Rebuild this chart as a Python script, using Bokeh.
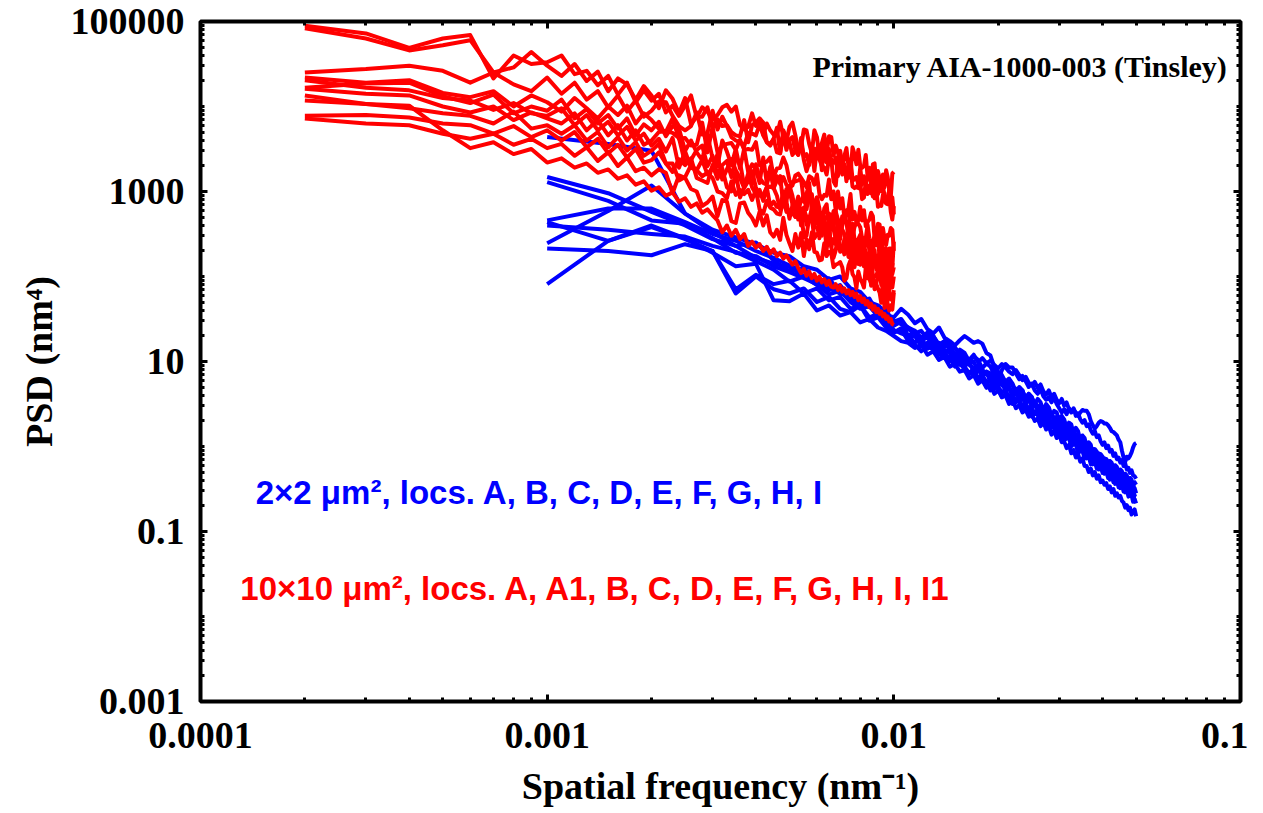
from bokeh.plotting import figure
from bokeh.models import LogAxis, FixedTicker, Label, CustomJSTickFormatter
from bokeh.embed import file_html
from bokeh.resources import INLINE

# ---------------- data ----------------
# spatial frequency grids (nm^-1)
red_freq = [k * 1e-4 for k in range(2, 101)]    # 10x10 um scans: 0.0002 ... 0.0100
blue_freq = [k * 5e-4 for k in range(2, 101)]   # 2x2 um scans:   0.0010 ... 0.0500

# log10 of PSD (nm^4)
red_A = [4.95, 4.86, 4.69, 4.80, 4.84, 4.33, 4.60, 4.50, 4.52, 4.60,
         4.38, 4.42, 4.25, 4.36, 4.14, 4.28, 4.05, 4.19, 4.07, 4.15,
         3.93, 4.01, 3.89, 4.01, 4.13, 3.87, 3.99, 3.94, 3.85, 3.90,
         3.99, 4.02, 3.94, 4.00, 3.78, 3.73, 3.76, 3.92, 3.77, 3.82,
         3.67, 3.80, 3.72, 3.67, 3.66, 3.82, 3.64, 3.59, 3.76, 3.81,
         3.66, 3.47, 3.53, 3.73, 3.72, 3.56, 3.45, 3.72, 3.64, 3.41,
         3.57, 3.67, 3.45, 3.65, 3.64, 3.42, 3.54, 3.46, 3.31, 3.25,
         3.42, 3.51, 3.29, 3.21, 3.52, 3.44, 3.32, 3.49, 3.30, 3.28,
         3.30, 3.43, 3.17, 3.20, 3.08, 3.32, 3.33, 3.08, 3.24, 3.15,
         3.00, 3.20, 3.05, 3.25, 3.17, 3.02, 2.94, 3.21, 3.23]
red_A1 = [4.92, 4.80, 4.66, 4.72, 4.78, 4.40, 4.46, 4.64, 4.48, 4.36,
          4.50, 4.30, 4.41, 4.18, 4.33, 4.26, 4.08, 4.24, 4.13, 3.98,
          4.19, 4.09, 3.92, 4.10, 3.79, 3.88, 3.88, 3.99, 3.75, 3.85,
          3.77, 3.78, 3.70, 3.66, 3.65, 3.84, 3.58, 3.78, 3.81, 3.86,
          3.81, 3.58, 3.54, 3.62, 3.75, 3.45, 3.72, 3.63, 3.58, 3.43,
          3.48, 3.43, 3.63, 3.41, 3.44, 3.31, 3.51, 3.50, 3.42, 3.52,
          3.25, 3.56, 3.34, 3.50, 3.35, 3.34, 3.40, 3.18, 3.48, 3.33,
          3.32, 3.12, 3.29, 3.38, 3.15, 3.14, 3.17, 3.08, 3.28, 3.08,
          3.18, 3.10, 3.16, 3.28, 3.09, 2.94, 3.21, 2.95, 2.97, 3.17,
          3.01, 3.13, 2.88, 2.86, 2.85, 3.04, 2.91, 2.93, 2.73]
red_B = [4.40, 4.44, 4.48, 4.42, 4.28, 4.40, 4.26, 4.18, 4.34, 4.15,
         4.28, 4.08, 4.18, 3.99, 4.13, 3.94, 4.07, 3.88, 3.95, 4.06,
         4.05, 3.89, 3.77, 3.72, 3.77, 3.93, 3.67, 3.69, 3.95, 3.73,
         3.88, 3.77, 3.64, 3.60, 3.58, 3.53, 3.69, 3.68, 3.66, 3.79,
         3.66, 3.58, 3.56, 3.62, 3.46, 3.45, 3.68, 3.49, 3.61, 3.64,
         3.48, 3.43, 3.59, 3.37, 3.24, 3.34, 3.50, 3.24, 3.51, 3.38,
         3.30, 3.28, 3.20, 3.39, 3.38, 3.12, 3.07, 3.37, 3.29, 3.20,
         3.22, 3.20, 3.16, 3.28, 3.06, 3.04, 3.06, 3.04, 3.10, 2.91,
         2.93, 3.12, 2.97, 3.07, 2.98, 3.00, 2.92, 3.04, 2.82, 2.84,
         2.83, 2.96, 2.98, 2.89, 2.92, 2.94, 2.76, 2.67, 2.83]
red_C = [4.34, 4.28, 4.31, 4.16, 4.11, 4.18, 4.00, 4.13, 4.05, 3.94,
         4.10, 3.98, 3.86, 4.00, 3.90, 4.01, 3.80, 3.92, 3.84, 3.74,
         3.70, 3.86, 3.62, 3.63, 3.54, 3.55, 3.81, 3.46, 3.76, 3.46,
         3.54, 3.56, 3.57, 3.49, 3.61, 3.49, 3.50, 3.49, 3.58, 3.31,
         3.34, 3.35, 3.40, 3.17, 3.27, 3.28, 3.40, 3.31, 3.13, 3.07,
         3.19, 3.21, 3.16, 3.11, 3.05, 3.18, 3.16, 3.08, 3.20, 2.97,
         2.91, 2.96, 2.95, 3.14, 2.91, 3.00, 2.77, 3.00, 2.80, 2.92,
         2.69, 2.75, 2.80, 2.97, 2.67, 2.76, 2.64, 2.66, 2.82, 2.66,
         2.78, 2.59, 2.64, 2.67, 2.75, 2.71, 2.44, 2.43, 2.62, 2.61,
         2.37, 2.57, 2.45, 2.37, 2.49, 2.48, 2.57, 2.55, 2.30]
red_D = [4.22, 4.27, 4.28, 4.12, 4.04, 4.14, 3.92, 4.00, 3.95, 4.08,
         3.86, 3.97, 3.80, 3.90, 3.74, 3.86, 3.66, 3.79, 3.72, 3.82,
         3.65, 3.77, 3.74, 3.48, 3.60, 3.46, 3.37, 3.66, 3.39, 3.30,
         3.60, 3.47, 3.31, 3.50, 3.27, 3.50, 3.23, 3.32, 3.26, 3.10,
         3.40, 3.10, 3.29, 3.06, 3.18, 3.09, 3.17, 3.08, 3.02, 3.10,
         3.12, 3.13, 3.15, 2.88, 2.97, 3.10, 2.76, 2.85, 2.93, 2.70,
         2.68, 2.70, 2.69, 2.74, 2.72, 2.59, 2.76, 2.67, 2.54, 2.71,
         2.66, 2.78, 2.77, 2.54, 2.46, 2.58, 2.64, 2.62, 2.58, 2.45,
         2.40, 2.45, 2.61, 2.45, 2.33, 2.42, 2.47, 2.56, 2.41, 2.25,
         2.51, 2.32, 2.21, 2.33, 2.18, 2.17, 2.33, 2.10, 2.41]
red_E = [4.21, 4.15, 4.13, 4.00, 3.93, 4.00, 3.84, 3.93, 3.86, 3.80,
         3.92, 3.72, 3.84, 3.66, 3.78, 3.60, 3.72, 3.55, 3.60, 3.70,
         3.71, 3.69, 3.63, 3.33, 3.37, 3.49, 3.54, 3.30, 3.42, 3.19,
         3.31, 3.36, 3.17, 3.39, 3.34, 3.07, 3.16, 3.09, 3.32, 3.16,
         3.10, 3.08, 3.24, 3.04, 3.13, 3.18, 2.84, 2.89, 3.07, 2.95,
         2.75, 2.77, 2.90, 2.95, 2.79, 2.98, 2.97, 2.74, 2.93, 2.80,
         2.60, 2.80, 2.85, 2.56, 2.64, 2.77, 2.75, 2.53, 2.44, 2.60,
         2.72, 2.64, 2.44, 2.47, 2.62, 2.44, 2.42, 2.44, 2.49, 2.33,
         2.45, 2.36, 2.49, 2.30, 2.24, 2.27, 2.46, 2.37, 2.43, 2.37,
         2.25, 2.17, 2.23, 2.25, 2.09, 2.33, 2.18, 2.03, 2.11]
red_F = [4.13, 4.03, 3.98, 3.92, 3.89, 3.80, 3.94, 3.74, 3.78, 3.68,
         3.78, 3.60, 3.70, 3.52, 3.64, 3.48, 3.58, 3.42, 3.48, 3.56,
         3.33, 3.23, 3.38, 3.31, 3.39, 3.16, 3.13, 3.10, 3.31, 3.15,
         3.27, 3.05, 3.00, 3.22, 2.93, 3.05, 3.21, 3.05, 2.97, 3.02,
         2.89, 3.05, 2.83, 2.88, 2.82, 2.81, 3.00, 2.88, 2.68, 2.84,
         2.82, 2.94, 2.60, 2.79, 2.70, 2.68, 2.80, 2.61, 2.80, 2.45,
         2.68, 2.55, 2.60, 2.58, 2.35, 2.44, 2.38, 2.57, 2.34, 2.36,
         2.26, 2.39, 2.40, 2.45, 2.16, 2.42, 2.26, 2.15, 2.16, 2.35,
         2.37, 2.28, 2.23, 2.00, 2.24, 2.01, 2.00, 2.01, 2.07, 2.02,
         2.07, 1.95, 2.15, 1.99, 1.95, 1.83, 2.10, 1.87, 2.00]
red_G = [3.89, 3.90, 3.87, 3.80, 3.78, 3.68, 3.77, 3.64, 3.72, 3.60,
         3.70, 3.52, 3.62, 3.45, 3.55, 3.40, 3.50, 3.34, 3.37, 3.46,
         3.33, 3.33, 3.13, 3.17, 3.31, 3.25, 3.18, 3.22, 3.16, 3.00,
         2.98, 2.92, 3.12, 2.96, 3.02, 2.97, 3.02, 2.90, 3.02, 2.79,
         2.74, 2.89, 2.81, 2.79, 2.74, 2.73, 2.92, 2.76, 2.77, 2.75,
         2.70, 2.75, 2.80, 2.46, 2.48, 2.70, 2.68, 2.45, 2.50, 2.48,
         2.53, 2.62, 2.32, 2.54, 2.35, 2.22, 2.31, 2.50, 2.29, 2.31,
         2.44, 2.38, 2.23, 2.39, 2.13, 2.11, 2.24, 2.15, 2.14, 2.19,
         2.27, 2.12, 2.10, 2.09, 1.89, 1.92, 1.90, 1.92, 2.01, 2.10,
         1.90, 2.10, 1.81, 1.76, 2.00, 1.81, 1.73, 1.75, 1.84]
red_H = [3.86, 3.80, 3.78, 3.68, 3.62, 3.68, 3.55, 3.62, 3.51, 3.56,
         3.42, 3.52, 3.36, 3.46, 3.30, 3.40, 3.24, 3.28, 3.19, 3.26,
         3.22, 2.98, 3.19, 3.16, 3.03, 3.00, 2.83, 2.87, 2.94, 2.71,
         2.90, 2.88, 2.65, 2.63, 2.86, 2.87, 2.75, 2.69, 2.60, 2.76,
         2.60, 2.72, 2.52, 2.47, 2.55, 2.43, 2.69, 2.49, 2.39, 2.30,
         2.50, 2.34, 2.51, 2.24, 2.44, 2.32, 2.52, 2.29, 2.28, 2.19,
         2.20, 2.39, 2.24, 2.29, 2.27, 2.11, 2.14, 2.15, 2.17, 2.11,
         1.95, 1.98, 2.13, 2.19, 2.03, 1.99, 1.86, 2.06, 1.97, 1.93,
         1.87, 2.11, 1.98, 1.97, 1.92, 2.01, 1.85, 1.91, 1.86, 1.81,
         1.69, 1.96, 1.63, 1.94, 1.65, 1.60, 1.66, 1.61, 1.81]
red_I = [4.31, 4.22, 4.19, 4.10, 4.07, 3.96, 4.04, 3.92, 3.89, 3.98,
         3.78, 3.90, 3.72, 3.82, 3.66, 3.76, 3.60, 3.68, 3.54, 3.62,
         3.47, 3.63, 3.28, 3.47, 3.28, 3.25, 3.37, 3.20, 3.28, 3.44,
         3.14, 3.26, 3.38, 3.25, 3.16, 3.04, 3.12, 3.24, 3.05, 2.95,
         2.96, 3.05, 3.06, 3.04, 2.95, 2.79, 2.84, 3.03, 3.01, 2.85,
         2.87, 2.67, 2.76, 2.81, 2.61, 2.70, 2.68, 2.59, 2.57, 2.50,
         2.48, 2.67, 2.55, 2.42, 2.72, 2.56, 2.43, 2.66, 2.60, 2.55,
         2.50, 2.38, 2.40, 2.45, 2.33, 2.39, 2.23, 2.43, 2.20, 2.46,
         2.12, 2.25, 2.27, 2.15, 2.38, 2.11, 2.31, 2.08, 2.20, 2.30,
         1.94, 2.00, 2.24, 1.91, 1.97, 2.07, 1.92, 2.14, 2.13]
red_I1 = [4.07, 4.03, 4.01, 3.72, 3.51, 3.58, 3.44, 3.50, 3.34, 3.39,
          3.28, 3.33, 3.22, 3.26, 3.15, 3.19, 3.08, 3.12, 3.01, 3.05,
          2.95, 2.99, 2.88, 2.92, 2.82, 2.86, 2.75, 2.79, 2.72, 2.66,
          2.52, 2.60, 2.48, 2.55, 2.44, 2.50, 2.36, 2.41, 2.34, 2.38,
          2.30, 2.35, 2.27, 2.32, 2.24, 2.28, 2.21, 2.25, 2.19, 2.14,
          2.18, 2.10, 2.04, 2.09, 2.01, 2.06, 1.98, 2.03, 1.95, 2.00,
          1.93, 1.97, 1.90, 1.95, 1.88, 1.87, 1.91, 1.84, 1.89, 1.82,
          1.86, 1.80, 1.84, 1.78, 1.82, 1.76, 1.80, 1.72, 1.77, 1.70,
          1.74, 1.67, 1.71, 1.64, 1.68, 1.61, 1.65, 1.58, 1.62, 1.56,
          1.59, 1.53, 1.56, 1.50, 1.53, 1.47, 1.50, 1.44, 1.43]

blue_A = [3.64, 3.56, 3.48, 2.74, 2.55, 2.46, 2.38, 2.28, 2.24, 2.12,
          2.08, 1.96, 2.00, 1.86, 1.82, 1.70, 1.66, 1.58, 1.47, 1.50,
          1.38, 1.34, 1.26, 1.30, 1.24, 1.14, 1.20, 1.16, 1.05, 1.12,
          1.02, 0.98, 1.00, 0.88, 0.90, 0.86, 0.80, 0.86, 0.82, 0.72,
          0.74, 0.70, 0.62, 0.68, 0.64, 0.55, 0.60, 0.58, 0.48, 0.52,
          0.48, 0.40, 0.44, 0.42, 0.32, 0.37, 0.34, 0.26, 0.30, 0.28,
          0.18, 0.24, 0.22, 0.12, 0.17, 0.14, 0.05, 0.10, 0.08, -0.02,
          0.04, 0.02, -0.08, -0.03, -0.05, -0.13, -0.08, -0.10, -0.18, -0.14,
          -0.15, -0.22, -0.17, -0.19, -0.28, -0.22, -0.24, -0.32, -0.27, -0.29,
          -0.37, -0.32, -0.34, -0.42, -0.37, -0.39, -0.47, -0.42, -0.45]
blue_B = [3.17, 2.98, 2.76, 2.60, 2.44, 2.36, 2.22, 2.15, 2.11, 2.00,
          1.96, 1.84, 1.90, 1.74, 1.66, 1.72, 1.55, 1.48, 1.37, 1.33,
          1.30, 1.22, 1.28, 1.15, 1.19, 1.08, 1.12, 1.00, 1.05, 0.96,
          0.94, 0.86, 0.92, 0.80, 0.85, 0.74, 0.79, 0.68, 0.70, 0.64,
          0.66, 0.58, 0.62, 0.52, 0.57, 0.46, 0.51, 0.40, 0.45, 0.38,
          0.41, 0.33, 0.38, 0.28, 0.33, 0.22, 0.29, 0.20, 0.24, 0.14,
          0.20, 0.12, 0.18, 0.06, 0.10, 0.02, 0.06, -0.04, 0.01, -0.08,
          -0.02, -0.10, -0.06, -0.14, -0.09, -0.17, -0.12, -0.20, -0.18, -0.24,
          -0.20, -0.28, -0.23, -0.31, -0.27, -0.36, -0.30, -0.39, -0.35, -0.43,
          -0.41, -0.48, -0.44, -0.52, -0.47, -0.55, -0.51, -0.58, -0.59]
blue_C = [3.11, 2.89, 2.66, 2.62, 2.45, 2.28, 2.24, 2.12, 2.05, 1.98,
          1.91, 1.86, 1.80, 1.77, 1.70, 1.65, 1.60, 1.55, 1.52, 1.62,
          1.55, 1.45, 1.50, 1.38, 1.33, 1.40, 1.28, 1.24, 1.19, 1.25,
          1.30, 1.26, 1.22, 1.24, 1.21, 1.10, 1.07, 0.93, 0.78, 0.90,
          0.97, 0.93, 0.93, 0.86, 0.79, 0.83, 0.77, 0.70, 0.74, 0.66,
          0.62, 0.68, 0.59, 0.55, 0.58, 0.52, 0.58, 0.50, 0.45, 0.40,
          0.44, 0.38, 0.45, 0.41, 0.44, 0.40, 0.36, 0.40, 0.43, 0.42,
          0.42, 0.38, 0.30, 0.25, 0.21, 0.24, 0.28, 0.30, 0.29, 0.27,
          0.27, 0.25, 0.22, 0.18, 0.17, 0.15, 0.13, 0.08, 0.05, -0.05,
          -0.13, -0.18, -0.12, -0.14, -0.11, -0.07, -0.01, 0.03, 0.04]
blue_D = [2.66, 2.80, 2.80, 2.64, 2.50, 2.42, 2.30, 2.22, 2.13, 2.06,
          1.98, 1.92, 1.85, 1.80, 1.72, 1.69, 1.60, 1.55, 1.48, 1.44,
          1.40, 1.33, 1.36, 1.27, 1.30, 1.20, 1.24, 1.14, 1.17, 1.08,
          1.06, 1.02, 1.08, 0.99, 1.04, 0.98, 1.01, 0.96, 0.92, 0.97,
          0.93, 0.88, 0.85, 0.90, 0.84, 0.78, 0.82, 0.75, 0.72, 0.76,
          0.69, 0.73, 0.65, 0.61, 0.66, 0.58, 0.62, 0.55, 0.51, 0.56,
          0.48, 0.52, 0.44, 0.40, 0.45, 0.36, 0.39, 0.32, 0.28, 0.31,
          0.24, 0.26, 0.19, 0.15, 0.18, 0.11, 0.13, 0.06, 0.02, 0.05,
          -0.02, 0.01, -0.06, -0.04, -0.11, -0.08, -0.15, -0.13, -0.19, -0.16,
          -0.23, -0.20, -0.27, -0.25, -0.31, -0.28, -0.34, -0.35, -0.38]
blue_E = [2.64, 2.42, 2.58, 2.44, 2.30, 1.80, 2.00, 1.85, 1.80, 1.86,
          1.70, 1.76, 1.62, 1.58, 1.66, 1.48, 1.52, 1.40, 1.34, 1.38,
          1.24, 1.20, 1.12, 1.18, 1.14, 1.02, 1.08, 1.05, 0.94, 1.00,
          0.90, 0.86, 0.88, 0.76, 0.80, 0.77, 0.66, 0.72, 0.68, 0.58,
          0.62, 0.60, 0.50, 0.56, 0.52, 0.42, 0.48, 0.46, 0.35, 0.41,
          0.37, 0.28, 0.34, 0.31, 0.22, 0.27, 0.24, 0.14, 0.20, 0.17,
          0.08, 0.13, 0.10, 0.00, 0.06, 0.03, -0.08, -0.02, -0.05, -0.14,
          -0.09, -0.12, -0.21, -0.15, -0.18, -0.26, -0.20, -0.23, -0.31, -0.26,
          -0.29, -0.37, -0.32, -0.34, -0.42, -0.37, -0.40, -0.48, -0.42, -0.45,
          -0.53, -0.48, -0.51, -0.59, -0.54, -0.57, -0.65, -0.62, -0.67]
blue_F = [2.39, 2.77, 3.07, 2.74, 2.52, 2.36, 2.40, 2.19, 2.06, 2.10,
          1.92, 1.98, 1.80, 1.84, 1.68, 1.74, 1.56, 1.62, 1.42, 1.47,
          1.30, 1.36, 1.24, 1.29, 1.16, 1.22, 1.10, 1.15, 1.02, 1.08,
          0.94, 1.00, 0.88, 0.93, 0.82, 0.88, 0.76, 0.82, 0.71, 0.77,
          0.64, 0.70, 0.58, 0.65, 0.55, 0.60, 0.50, 0.56, 0.46, 0.51,
          0.42, 0.48, 0.37, 0.44, 0.33, 0.40, 0.29, 0.35, 0.24, 0.31,
          0.17, 0.24, 0.13, 0.19, 0.09, 0.14, 0.02, 0.08, -0.03, 0.02,
          -0.09, -0.03, -0.12, -0.07, -0.16, -0.10, -0.20, -0.14, -0.22, -0.18,
          -0.27, -0.20, -0.29, -0.24, -0.33, -0.27, -0.36, -0.30, -0.40, -0.34,
          -0.45, -0.38, -0.47, -0.42, -0.51, -0.46, -0.54, -0.49, -0.55]
blue_G = [2.33, 2.30, 2.25, 2.38, 2.30, 1.85, 2.02, 1.91, 1.95, 1.80,
          1.86, 1.72, 1.76, 1.62, 1.66, 1.52, 1.56, 1.44, 1.34, 1.39,
          1.28, 1.30, 1.18, 1.22, 1.20, 1.10, 1.14, 1.10, 1.00, 1.06,
          1.00, 0.96, 0.92, 0.96, 0.84, 0.88, 0.86, 0.75, 0.80, 0.78,
          0.68, 0.76, 0.72, 0.62, 0.68, 0.66, 0.55, 0.62, 0.58, 0.50,
          0.56, 0.52, 0.42, 0.50, 0.46, 0.36, 0.42, 0.40, 0.30, 0.36,
          0.32, 0.22, 0.28, 0.26, 0.15, 0.22, 0.18, 0.07, 0.13, 0.10,
          -0.01, 0.05, 0.02, -0.10, -0.03, -0.06, -0.16, -0.09, -0.12, -0.21,
          -0.15, -0.18, -0.27, -0.21, -0.24, -0.33, -0.26, -0.29, -0.38, -0.31,
          -0.34, -0.43, -0.37, -0.40, -0.48, -0.43, -0.45, -0.53, -0.52]
blue_H = [1.91, 2.42, 2.60, 2.45, 2.28, 2.12, 2.15, 1.72, 1.71, 1.80,
          1.60, 1.66, 1.54, 1.58, 1.46, 1.50, 1.40, 1.36, 1.30, 1.24,
          1.22, 1.16, 1.20, 1.08, 1.12, 1.02, 1.05, 0.94, 0.97, 0.88,
          0.90, 0.80, 0.84, 0.74, 0.78, 0.69, 0.72, 0.62, 0.66, 0.58,
          0.60, 0.50, 0.55, 0.45, 0.49, 0.40, 0.43, 0.35, 0.38, 0.30,
          0.33, 0.24, 0.29, 0.20, 0.24, 0.14, 0.19, 0.10, 0.14, 0.05,
          0.06, -0.02, 0.02, -0.08, -0.04, -0.13, -0.09, -0.18, -0.14, -0.23,
          -0.23, -0.30, -0.26, -0.34, -0.30, -0.38, -0.34, -0.42, -0.40, -0.45,
          -0.43, -0.50, -0.47, -0.54, -0.50, -0.58, -0.55, -0.60, -0.58, -0.64,
          -0.66, -0.72, -0.69, -0.75, -0.72, -0.80, -0.77, -0.74, -0.82]
blue_I = [2.60, 2.55, 2.50, 2.47, 2.36, 2.29, 2.18, 2.08, 1.94, 2.00,
          1.90, 1.79, 1.83, 1.70, 1.62, 1.65, 1.53, 1.58, 1.44, 1.46,
          1.40, 1.36, 1.28, 1.34, 1.30, 1.18, 1.24, 1.20, 1.08, 1.14,
          1.10, 1.00, 1.06, 1.02, 0.92, 0.98, 0.94, 0.84, 0.88, 0.84,
          0.76, 0.80, 0.74, 0.64, 0.70, 0.66, 0.56, 0.62, 0.58, 0.48,
          0.44, 0.40, 0.32, 0.38, 0.35, 0.26, 0.32, 0.28, 0.19, 0.24,
          0.18, 0.09, 0.14, 0.12, 0.02, 0.08, 0.04, -0.06, -0.01, -0.04,
          -0.14, -0.09, -0.12, -0.21, -0.15, -0.18, -0.27, -0.21, -0.24, -0.32,
          -0.28, -0.31, -0.39, -0.34, -0.36, -0.44, -0.39, -0.41, -0.49, -0.44,
          -0.46, -0.54, -0.49, -0.52, -0.58, -0.54, -0.57, -0.63, -0.62]

blue_series = [blue_A, blue_B, blue_C, blue_D, blue_E, blue_F, blue_G, blue_H, blue_I]
red_series = [red_A, red_A1, red_B, red_C, red_D, red_E, red_F, red_G, red_H, red_I, red_I1]

x_tick_values = [0.0001, 0.001, 0.01, 0.1]
x_tick_labels = ["0.0001", "0.001", "0.01", "0.1"]
y_tick_values = [0.001, 0.1, 10, 1000, 100000]
y_tick_labels = ["0.001", "0.1", "10", "1000", "100000"]

x_title = "Spatial frequency (nm\u207b\u00b9)"
y_title = "PSD (nm\u2074)"
title_text = "Primary AIA-1000-003 (Tinsley)"
blue_text = "2\u00d72 \u03bcm\u00b2, locs. A, B, C, D, E, F, G, H, I"
red_text = "10\u00d710 \u03bcm\u00b2, locs. A, A1, B, C, D, E, F, G, H, I, I1"

# ---------------- figure ----------------
x_minor = [m * 10.0 ** e for e in range(-4, -1) for m in range(1, 10)] + [0.1]
y_minor = [m * 10.0 ** e for e in range(-3, 5) for m in range(1, 10)] + [1e5]

p = figure(frame_width=1040, frame_height=680,
           x_axis_type="log", y_axis_type="log",
           x_range=(1e-4, 1e-1), y_range=(1e-3, 1e5),
           min_border_left=200, min_border_right=8,
           min_border_top=21, min_border_bottom=112,
           output_backend="svg", toolbar_location=None)
p.xgrid.grid_line_color = None
p.ygrid.grid_line_color = None
p.outline_line_color = "black"
p.outline_line_width = 4
p.outline_line_alpha = 1.0
p.background_fill_color = "white"
p.border_fill_color = "white"

SERIF = "Liberation Serif"


def style_axis(ax, ticks, minor, labels, show):
    ax.ticker = FixedTicker(ticks=ticks, minor_ticks=minor)
    ax.axis_line_color = None
    ax.major_tick_in = 7
    ax.major_tick_out = 0
    ax.minor_tick_in = 4
    ax.minor_tick_out = 0
    ax.major_tick_line_width = 3
    ax.minor_tick_line_width = 3
    ax.major_tick_line_color = "black"
    ax.minor_tick_line_color = "black"
    ax.major_label_overrides = dict(zip(ticks, labels))
    if show:
        ax.formatter = CustomJSTickFormatter(code="return tick.toString();")
        ax.major_label_text_font = SERIF
        ax.major_label_text_font_style = "bold"
        ax.major_label_text_font_size = "38px"
        ax.major_label_text_color = "black"
        ax.axis_label_text_font = SERIF
        ax.axis_label_text_font_style = "bold"
        ax.axis_label_text_font_size = "38px"
        ax.axis_label_text_color = "black"
    else:
        ax.major_label_text_font_size = "1px"
        ax.major_label_text_alpha = 0.0
        ax.major_label_standoff = 0


xaxis = p.xaxis[0]
yaxis = p.yaxis[0]
style_axis(xaxis, x_tick_values, x_minor, x_tick_labels, True)
style_axis(yaxis, y_tick_values, y_minor, y_tick_labels, True)
xaxis.axis_label = x_title
yaxis.axis_label = y_title
xaxis.major_label_standoff = 21
xaxis.axis_label_standoff = 14
yaxis.major_label_standoff = 16
yaxis.axis_label_standoff = 8

top_axis = LogAxis()
style_axis(top_axis, x_tick_values, x_minor, x_tick_labels, False)
p.add_layout(top_axis, "above")
right_axis = LogAxis()
style_axis(right_axis, y_tick_values, y_minor, y_tick_labels, False)
p.add_layout(right_axis, "right")

for vals in blue_series:
    p.line(blue_freq[:len(vals)], [10 ** v for v in vals],
           line_color="#0000FF", line_width=4, line_join="round")
for vals in red_series:
    p.line(red_freq[:len(vals)], [10 ** v for v in vals],
           line_color="#FF0000", line_width=4, line_join="round")

p.add_layout(Label(x=0.0923, y=29500, text=title_text,
                   text_align="right", text_baseline="middle",
                   text_font=SERIF, text_font_style="bold",
                   text_font_size="30px", text_color="black"))
p.add_layout(Label(x=1.443e-4, y=0.29, text=blue_text,
                   text_align="left", text_baseline="middle",
                   text_font="Liberation Sans", text_font_style="bold",
                   text_font_size="33px", text_color="#0000FF"))
p.add_layout(Label(x=1.303e-4, y=0.0213, text=red_text,
                   text_align="left", text_baseline="middle",
                   text_font="Liberation Sans", text_font_style="bold",
                   text_font_size="33px", text_color="#FF0000"))

open("out.html", "w", encoding="utf-8").write(file_html(p, INLINE))
